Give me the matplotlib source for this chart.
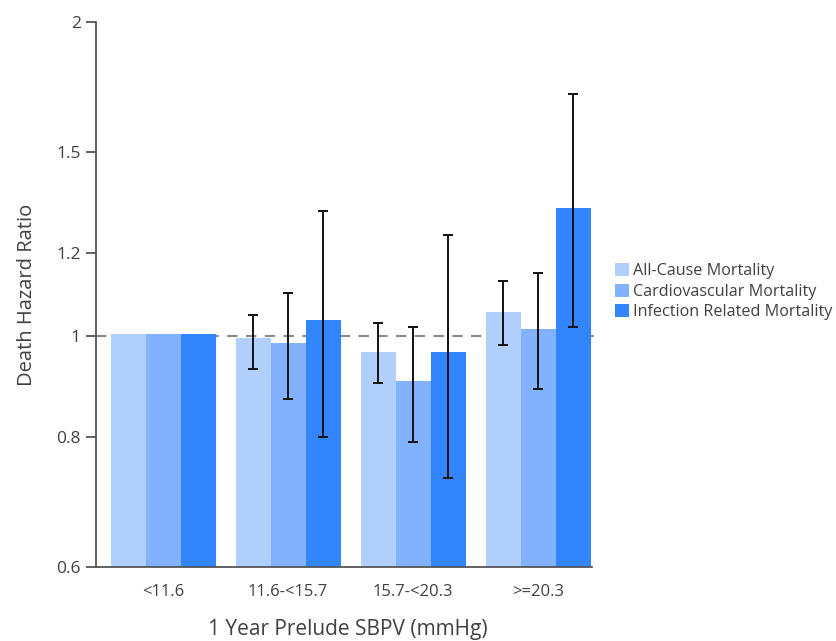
import numpy as np
import matplotlib
matplotlib.use("Agg")
import matplotlib.pyplot as plt

groups = ["<11.6", "11.6-<15.7", "15.7-<20.3", ">=20.3"]
series = ["All-Cause Mortality", "Cardiovascular Mortality", "Infection Related Mortality"]

all_cause = [1.005, 0.995, 0.965, 1.055]
all_cause_lo = [np.nan, 0.93, 0.90, 0.98]
all_cause_hi = [np.nan, 1.048, 1.029, 1.129]

cardio = [1.005, 0.985, 0.905, 1.016]
cardio_lo = [np.nan, 0.87, 0.79, 0.89]
cardio_hi = [np.nan, 1.098, 1.019, 1.149]

infection = [1.005, 1.035, 0.965, 1.325]
infection_lo = [np.nan, 0.80, 0.73, 1.019]
infection_hi = [np.nan, 1.318, 1.25, 1.706]

colors = ["#b0cffd", "#82b2fd", "#3385fd"]
yticks = [0.6, 0.8, 1, 1.2, 1.5, 2]
ytick_labels = ["0.6", "0.8", "1", "1.2", "1.5", "2"]

plt.rcParams['font.family'] = ['Open Sans', 'DejaVu Sans']
text_color = "#404040"

fig = plt.figure(figsize=(8.37, 6.41), dpi=100)
ax = fig.add_axes([0.1147, 0.1154, 0.6025, 0.8503])

base = 0.6
width = 0.28
x = np.arange(len(groups))
data = [(all_cause, all_cause_lo, all_cause_hi),
        (cardio, cardio_lo, cardio_hi),
        (infection, infection_lo, infection_hi)]

# reference line at HR = 1, sits behind the bars
ax.axhline(1.0, color="#8a8a8a", linestyle=(0, (5, 4)), linewidth=1.5, zorder=1)

for i, (vals, lo, hi) in enumerate(data):
    vals = np.array(vals)
    xs = x + (i - 1) * width
    ax.bar(xs, vals - base, width, bottom=base, color=colors[i], label=series[i], zorder=2)
    lo = np.array(lo)
    hi = np.array(hi)
    mask = ~np.isnan(lo)
    ax.errorbar(xs[mask], vals[mask], yerr=[vals[mask] - lo[mask], hi[mask] - vals[mask]],
                fmt="none", ecolor="#111111", elinewidth=1.4, capsize=3.5, capthick=1.4, zorder=3)

ax.set_yscale("log")
ax.set_ylim(0.6, 2)
ax.set_yticks(yticks)
ax.set_yticklabels(ytick_labels)
ax.yaxis.set_minor_locator(matplotlib.ticker.NullLocator())
ax.set_xlim(-0.536, 3.496)
ax.set_xticks(x)
ax.set_xticklabels(groups)

for s in ["top", "right"]:
    ax.spines[s].set_visible(False)
for s in ["left", "bottom"]:
    ax.spines[s].set_color("#555555")
    ax.spines[s].set_linewidth(1.3)
ax.spines["bottom"].set_bounds(-0.536, 3.43)

ax.tick_params(axis="y", length=7, width=1.3, color="#555555", labelsize=12.5, labelcolor=text_color, pad=4)
ax.tick_params(axis="x", length=0, labelsize=12, labelcolor=text_color, pad=12)

ax.set_ylabel("Death Hazard Ratio", fontsize=14.5, color=text_color, labelpad=14)
ax.set_xlabel("1 Year Prelude SBPV (mmHg)", fontsize=15, color=text_color, labelpad=14)

leg = ax.legend(loc="center left", bbox_to_anchor=(0.727, 0.545), bbox_transform=fig.transFigure,
                frameon=False, fontsize=11.6, handlelength=0.85, handleheight=0.85, handletextpad=0.25,
                labelspacing=0.3, borderaxespad=0)
for t in leg.get_texts():
    t.set_color(text_color)

fig.savefig("out.png", dpi=100)
